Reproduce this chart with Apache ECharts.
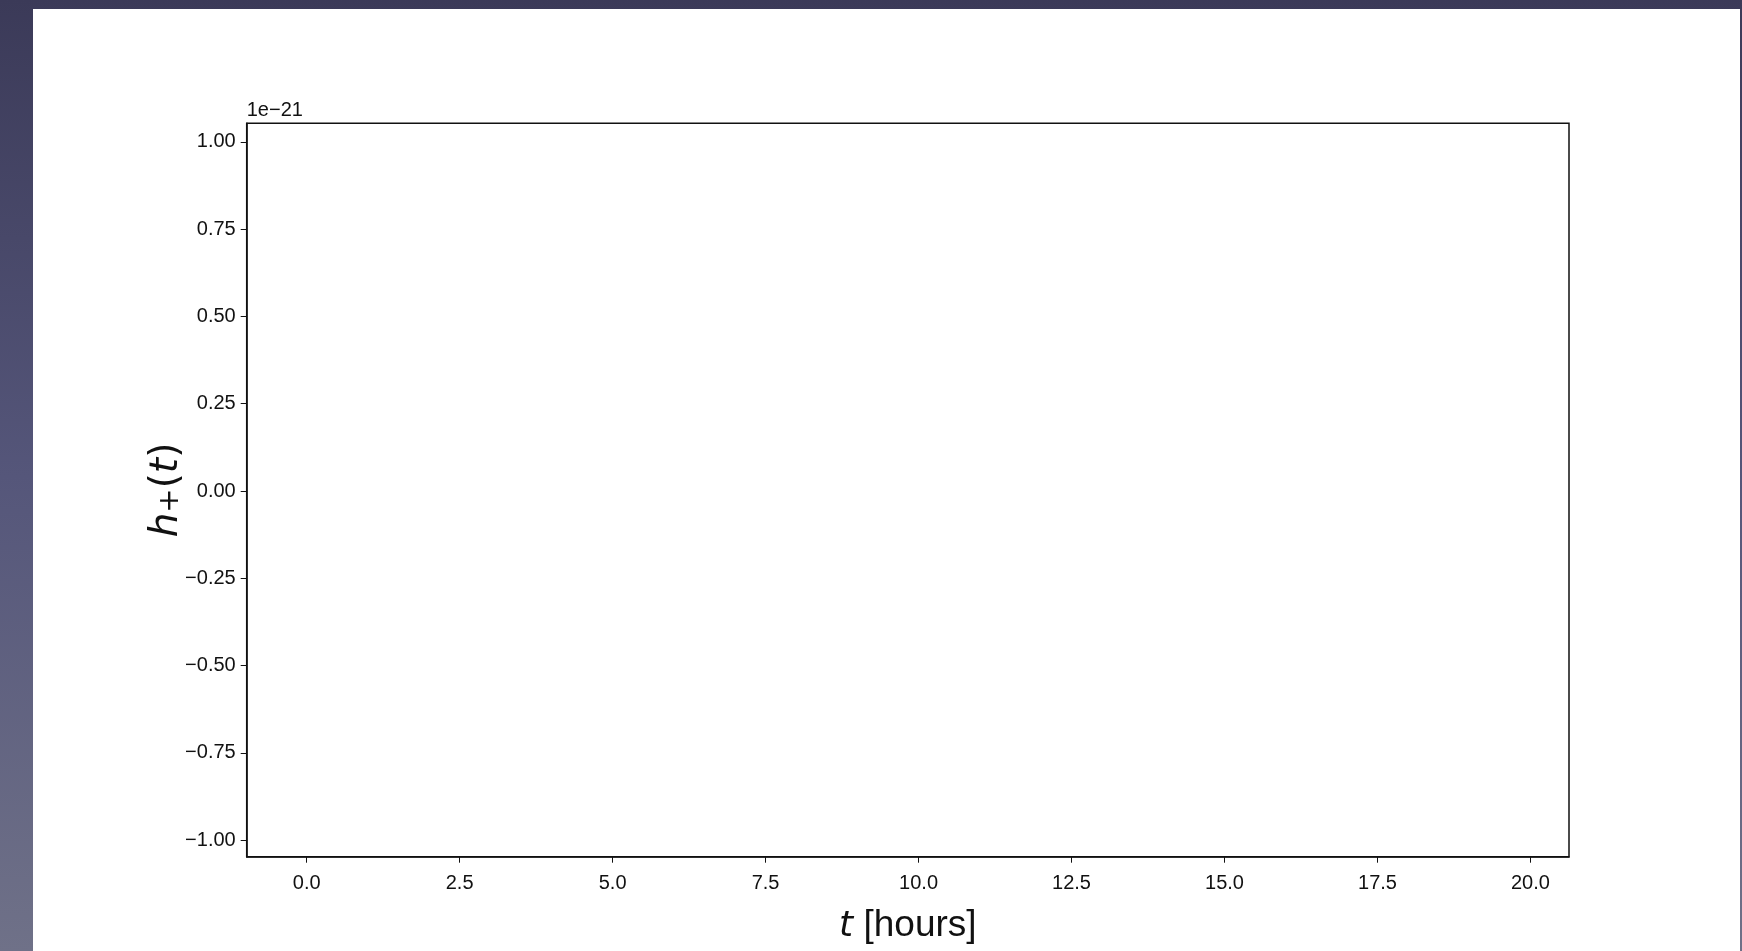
<!DOCTYPE html>
<html>
<head>
<meta charset="utf-8">
<script src="https://cdn.jsdelivr.net/npm/echarts@6/dist/echarts.min.js"></script>
<style>
  html, body { margin: 0; padding: 0; width: 1742px; height: 951px; overflow: hidden;
    background: linear-gradient(to bottom, #3b3a58 0%, #55567a 50%, #6f7188 100%); }
  #panel { position: absolute; left: 33px; top: 9px; width: 1707px; height: 942px; background: #ffffff; }
  #chart { position: absolute; left: 0; top: 0; width: 1742px; height: 951px; }
</style>
</head>
<body>
<div id="panel"></div>
<div id="chart"></div>
<script>
// Data (the reference plot shows no visible curve)
const tHours = [];
const hPlus = [];
const xTicks = [0, 2.5, 5, 7.5, 10, 12.5, 15, 17.5, 20];
const yTicks = [-1, -0.75, -0.5, -0.25, 0, 0.25, 0.5, 0.75, 1];
const xRange = [-0.98, 20.63];
const yRange = [-1.047, 1.053];
const yOffsetText = '1e\u221221';

const FONT = '"Liberation Sans", Arial, sans-serif';
const MATHFONT = '"DejaVu Sans", sans-serif';
const fmt = (v, d) => (v < 0 ? '\u2212' : '') + Math.abs(v).toFixed(d);

const chart = echarts.init(document.getElementById('chart'), null, { renderer: 'canvas' });
chart.setOption({
  backgroundColor: 'transparent',
  animation: false,
  grid: { left: 246.7, top: 123.3, right: 173, bottom: 94.3, show: true,
          borderColor: '#111', borderWidth: 1.5, backgroundColor: 'transparent',
          containLabel: false, outerBoundsMode: 'none' },
  xAxis: {
    type: 'value', min: xRange[0], max: xRange[1],
    name: '{i|t}{n| [hours]}', nameLocation: 'middle', nameGap: 51,
    nameTextStyle: { rich: {
      i: { fontFamily: MATHFONT, fontStyle: 'italic', fontSize: 36, color: '#111' },
      n: { fontFamily: FONT, fontSize: 37, color: '#111' } } },
    axisLine: { show: true, onZero: false, lineStyle: { color: '#111', width: 1.5 } },
    axisTick: { show: true, inside: false, length: 6, customValues: xTicks, lineStyle: { color: '#111', width: 1 } },
    axisLabel: { customValues: xTicks, formatter: v => fmt(v, 1), fontFamily: FONT, fontSize: 20, color: '#111', margin: 17 },
    splitLine: { show: false }
  },
  yAxis: [{
    type: 'value', min: yRange[0], max: yRange[1],
    name: yOffsetText, nameLocation: 'end', nameGap: 3,
    nameTextStyle: { fontFamily: FONT, fontSize: 20, color: '#111', align: 'left', verticalAlign: 'bottom' },
    axisLine: { show: true, onZero: false, lineStyle: { color: '#111', width: 1.5 } },
    axisTick: { show: true, inside: false, length: 6, customValues: yTicks, lineStyle: { color: '#111', width: 1 } },
    axisLabel: { customValues: yTicks, formatter: v => fmt(v, 2), fontFamily: FONT, fontSize: 20, color: '#111', margin: 11 },
    splitLine: { show: false }
  }, {
    type: 'value', min: yRange[0], max: yRange[1], position: 'left',
    name: '{i|h}{s|+}{n|(}{i|t}{n|)}', nameLocation: 'middle', nameRotate: 90, nameGap: 60,
    nameTextStyle: { rich: {
      i: { fontFamily: MATHFONT, fontStyle: 'italic', fontSize: 39, color: '#111' },
      s: { fontFamily: MATHFONT, fontSize: 29, color: '#111', padding: [7, 0, 0, 0] },
      n: { fontFamily: MATHFONT, fontSize: 39, color: '#111' } } },
    axisLine: { show: false }, axisTick: { show: false }, axisLabel: { show: false }, splitLine: { show: false }
  }],
  series: [{
    type: 'line', data: tHours.map((t, i) => [t, hPlus[i]]), showSymbol: false,
    lineStyle: { color: '#1f77b4', width: 1.5 }
  }]
});
</script>
</body>
</html>
